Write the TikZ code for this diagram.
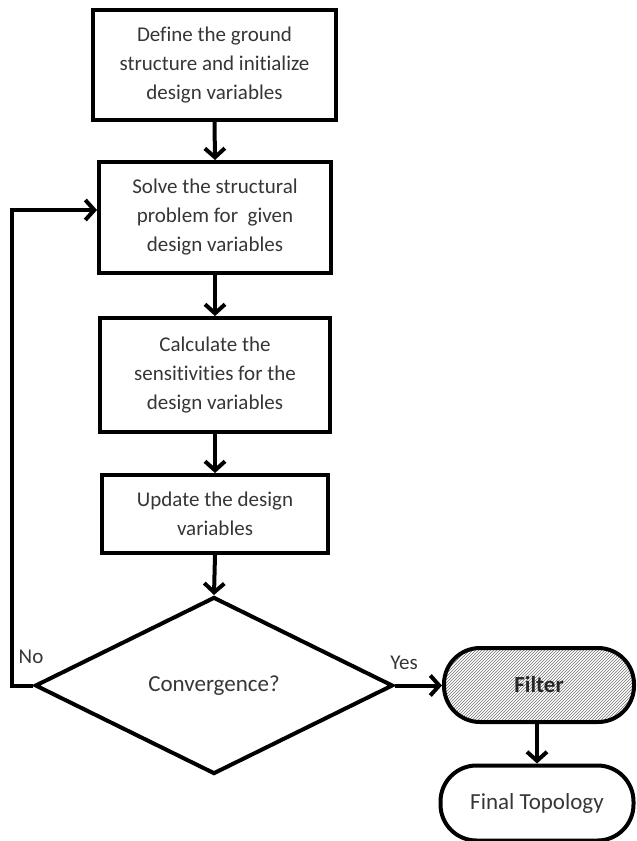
\documentclass[tikz,border=0pt]{standalone}
\usepackage{fontspec}
\setmainfont{Carlito}[Ligatures=NoCommon]
\usetikzlibrary{arrows.meta,shapes.geometric,patterns,calc}
\definecolor{txt}{HTML}{363636}
\begin{document}
\begin{tikzpicture}[x=1pt,y=-1pt,
  every node/.style={font=\fontsize{21}{29}\selectfont, text=txt, align=center, inner sep=0pt},
  procbox/.style={draw=black, line width=4pt, rectangle, fill=white},
  decbox/.style={draw=black, line width=4pt, diamond, aspect=2.02},
  termbox/.style={draw=black, line width=4pt, rectangle, rounded corners=36pt},
  arr/.style={line width=4pt, -{Straight Barb[length=9pt,width=20pt,line width=4pt]}},
  conn/.style={line width=4pt}
]
\useasboundingbox (0,0) rectangle (637,841);

\node[procbox, minimum width=243pt, minimum height=110pt] (b1) at (214.5,65)
  {Define the ground\\structure and initialize\\design variables};
\node[procbox, minimum width=232pt, minimum height=111pt] (b2) at (215,217.5)
  {Solve the structural\\problem for \ given\\design variables};
\node[procbox, minimum width=230pt, minimum height=114pt] (b3) at (215,375)
  {Calculate the\\sensitivities for the\\design variables};
\node[procbox, minimum width=226pt, minimum height=78pt] (b4) at (215,514)
  {Update the design\\variables};
\node[decbox, minimum width=358pt, minimum height=177pt] (d) at (214,685.5)
  {\fontsize{23}{29}\selectfont Convergence?};
\node[termbox, minimum width=190pt, minimum height=74pt, text=black!85,
  preaction={pattern=north east lines, pattern color=black!55}] (f) at (539,685)
  {\fontsize{23}{29}\selectfont\bfseries Filter};
\node[termbox, minimum width=193pt, minimum height=75pt] (t) at (537,803)
  {\fontsize{23}{29}\selectfont Final Topology};

\node (no) at (31,657) {No};
\node (yes) at (404,663) {Yes};

\coordinate (c1) at (12,685.5);
\coordinate (c2) at (12,210);

\draw[arr] (b1.south) -- (b2.north);
\draw[arr] (b2.south) -- (b3.north);
\draw[arr] (b3.south) -- (b4.north);
\draw[arr] (b4.south) -- (d.north);
\draw[arr] (d.east) -- (d.east -| f.west);
\draw[arr] (f.south -| t.north) -- (t.north);
\draw[arr, line join=miter] (d.west) -- (c1) -- (c2) -- (c2 -| b2.west);
\end{tikzpicture}
\end{document}
